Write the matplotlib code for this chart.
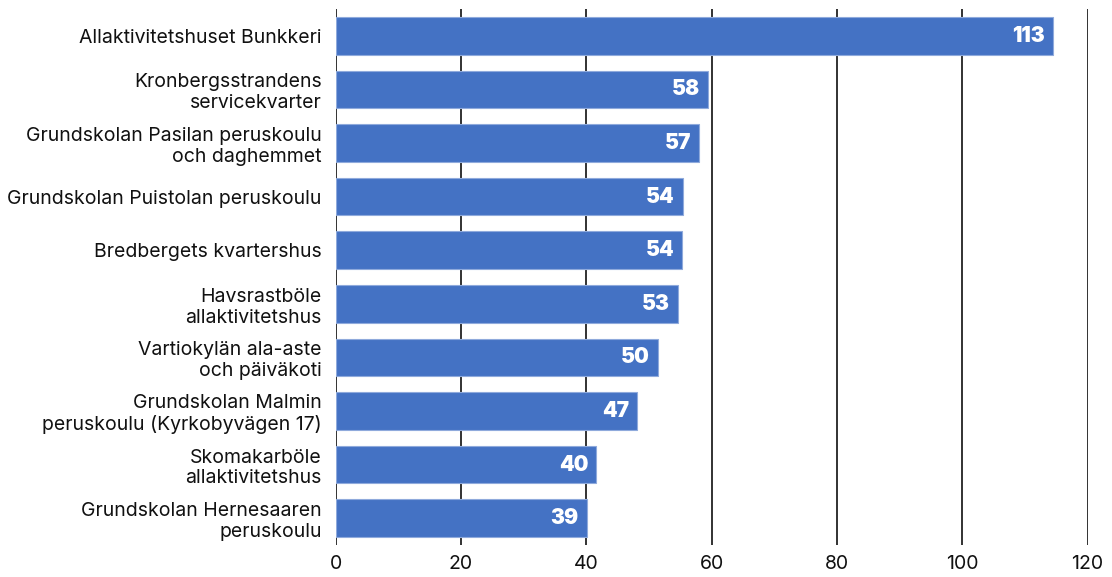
import matplotlib.pyplot as plt
import numpy as np

names = ['Allaktivitetshuset Bunkkeri',
         'Kronbergsstrandens\nservicekvarter',
         'Grundskolan Pasilan peruskoulu\noch daghemmet',
         'Grundskolan Puistolan peruskoulu',
         'Bredbergets kvartershus',
         'Havsrastböle\nallaktivitetshus',
         'Vartiokylän ala-aste\noch päiväkoti',
         'Grundskolan Malmin\nperuskoulu (Kyrkobyvägen 17)',
         'Skomakarböle\nallaktivitetshus',
         'Grundskolan Hernesaaren\nperuskoulu']
values = [114.5, 59.4, 58.0, 55.4, 55.3, 54.7, 51.5, 48.1, 41.6, 40.1]
labels = ['113', '58', '57', '54', '54', '53', '50', '47', '40', '39']
xticks = [0, 20, 40, 60, 80, 100, 120]

plt.rcParams['font.family'] = ['Inter', 'DejaVu Sans']

fig = plt.figure(figsize=(11.12, 5.77), dpi=100)
ax = fig.add_axes([0.3019, 0.0555, 0.978 - 0.3019, 0.9844 - 0.0555])

y = np.arange(len(names))
ax.barh(y, values, height=0.70, color='#4472C4', edgecolor='#8FAADC', linewidth=0.8, zorder=3)

for yi, v, lab in zip(y, values, labels):
    ax.text(v - 1.3, yi, lab, ha='right', va='center', color='white',
            fontsize=15, fontweight='black', zorder=4)

ax.set_xlim(0, 120)
ax.set_ylim(len(names) - 0.5, -0.5)
ax.set_xticks(xticks)
ax.set_yticks(y)
ax.set_yticklabels(names, fontsize=14, color='#111111', linespacing=1.2)
ax.tick_params(axis='x', labelsize=14, length=0, pad=7, labelcolor='#111111')
ax.tick_params(axis='y', length=0, pad=10)
for s in ax.spines.values():
    s.set_visible(False)
ax.grid(axis='x', color='#222222', linewidth=1.3, zorder=0)

fig.savefig('out.png', dpi=100)
